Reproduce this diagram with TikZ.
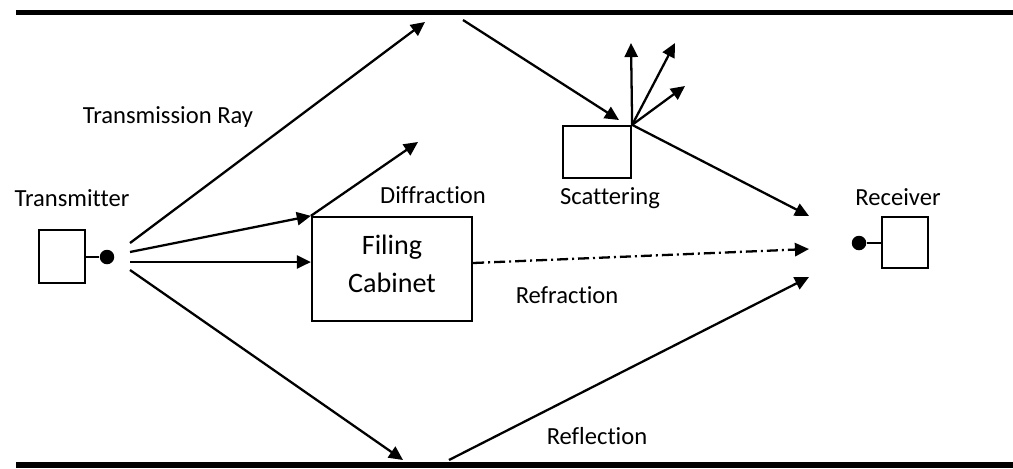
\documentclass[tikz,border=0pt]{standalone}
\usepackage{fontspec}
\setmainfont{Carlito}[Ligatures=NoCommon]
\usepackage{tikz}
\usetikzlibrary{arrows.meta,positioning,calc}

\begin{document}
\begin{tikzpicture}[x=0.02cm,y=-0.02cm,font=\fontsize{14}{17}\selectfont,
    >={Triangle[length=8pt,width=7.5pt]},
    ray/.style={line width=1.3pt},
    wall/.style={line width=3.3pt},
    box/.style={draw, line width=1.3pt, fill=white, inner sep=0pt, align=center},
    dot/.style={circle, fill, inner sep=0pt, minimum size=0.29cm},
    lbl/.style={inner sep=0pt, align=center}]
  \useasboundingbox (0,0) rectangle (1013,468);
  % ---------- walls ----------
  \draw[wall] (16,12.5) -- (1013,12.5);
  \draw[wall] (16,465) -- (1013,465);
  % ---------- transmitter / receiver ----------
  \node[box, minimum width=0.92cm, minimum height=1.06cm] (tx) at (62,256.5) {};
  \node[dot] (txdot) at (107,257) {};
  \draw[line width=1.3pt] (tx.east |- txdot) -- (txdot);
  \node[lbl] (txlbl) at (72,198) {Transmitter};
  \node[box, minimum width=0.92cm, minimum height=1.02cm] (rx) at (905,242.5) {};
  \node[dot] (rxdot) at (859,243) {};
  \draw[line width=1.3pt] (rxdot) -- (rx.west |- rxdot);
  \node[lbl] (rxlbl) at (898,197) {Receiver};
  % ---------- obstacles ----------
  \node[box, minimum width=3.2cm, minimum height=2.08cm] (cab) at (392,269) {};
  \node[lbl, font=\fontsize{16}{19}\selectfont] (cablbl) at (392,264) {Filing\\[2.5pt]Cabinet};
  \node[box, minimum width=1.36cm, minimum height=1.04cm] (scat) at (597,152) {};
  % ---------- ray end points ----------
  \coordinate (o1) at (130,243);
  \coordinate (o2) at (130,252);
  \coordinate (o3) at (130,262);
  \coordinate (o4) at (130,270);
  \coordinate (top1) at (425,22);
  \coordinate (top2) at (463,20);
  \coordinate (hit) at (619,120);
  \coordinate (bot1) at (403,460);
  \coordinate (bot2) at (449,460);
  \coordinate (dif) at (418,142);
  \coordinate (s1) at (631,43);
  \coordinate (s2) at (675,43);
  \coordinate (s3) at (685,86);
  \coordinate (r1) at (809,216);
  \coordinate (r2) at (809,249);
  \coordinate (r3) at (809,277);
  \coordinate (cabout) at (cab.east |- 0,263);
  % ---------- rays ----------
  \draw[ray,->] (o1) -- (top1);
  \draw[ray,->] (top2) -- (hit);
  \draw[ray,->] (o2) -- (cab.north west);
  \draw[ray,->] (o3) -- (cab.west |- o3);
  \draw[ray,->] (o4) -- (bot1);
  \draw[ray,->] (bot2) -- (r3);
  \draw[ray,->] (cab.north west) -- (dif);
  \draw[ray,->] (scat.north east) -- (s1);
  \draw[ray,->] (scat.north east) -- (s2);
  \draw[ray,->] (scat.north east) -- (s3);
  \draw[ray,->] (scat.north east) -- (r1);
  \draw[ray,->,dash pattern=on 0.22cm off 0.08cm on 0.04cm off 0.08cm] (cabout) -- (r2);
  % ---------- labels ----------
  \node[lbl] (trlbl)  at (168,117) {Transmission Ray};
  \node[lbl] (diflbl) at (433,195) {Diffraction};
  \node[lbl] (sclbl)  at (610,198) {Scattering};
  \node[lbl] (rflbl)  at (567,295) {Refraction};
  \node[lbl] (rllbl)  at (597,436) {Reflection};
\end{tikzpicture}
\end{document}
